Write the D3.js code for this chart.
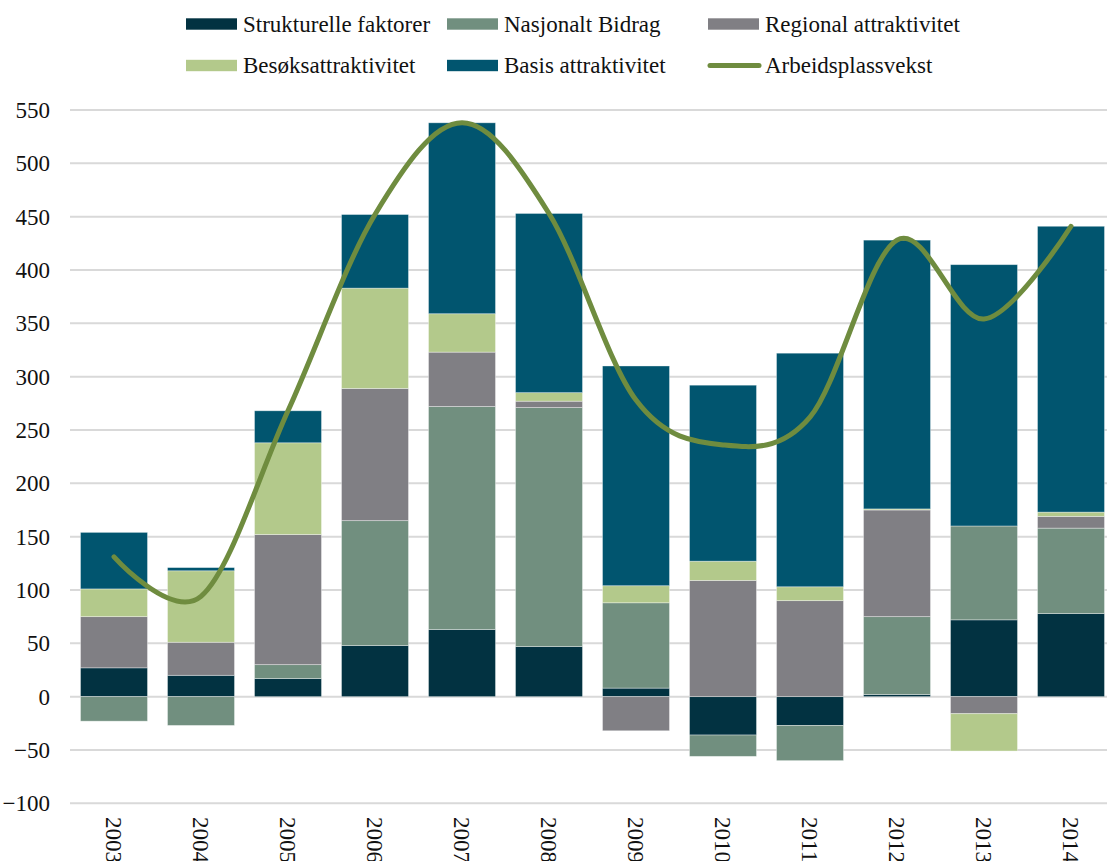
<!DOCTYPE html>
<html>
<head>
<meta charset="utf-8">
<script src="https://cdn.jsdelivr.net/npm/d3@7"></script>
<style>
  body { margin: 0; background: #fff; overflow: hidden; }
  svg text { font-family: "Liberation Serif", "DejaVu Serif", serif; fill: #111; }
</style>
</head>
<body>
<svg id="chart"></svg>
<script>
const years = ["2003", "2004", "2005", "2006", "2007", "2008", "2009", "2010", "2011", "2012", "2013", "2014"];
const seriesNames = ["Strukturelle faktorer", "Nasjonalt Bidrag", "Regional attraktivitet", "Besøksattraktivitet", "Basis attraktivitet"];
const strukturelle = [27, 20, 17, 48, 63, 47, 8, -36, -27, 2, 72, 78];
const nasjonalt = [-23, -27, 13, 117, 209, 224, 80, -20, -33, 73, 88, 80];
const regional = [48, 31, 122, 124, 51, 6, -32, 109, 90, 100, -16, 11];
const besok = [26, 67, 86, 94, 36, 8, 16, 18, 13, 1, -35, 4];
const basis = [53, 3, 30, 69, 179, 168, 206, 165, 219, 252, 245, 268];
const arbeidsplassvekst = [131, 94, 268, 452, 538, 453, 278, 236, 262, 428, 354, 441];
const yTicks = [-100, -50, 0, 50, 100, 150, 200, 250, 300, 350, 400, 450, 500, 550];

const colors = ["#023241", "#718f7f", "#807f84", "#b3c98b", "#01556f"];
const lineColor = "#6f8c3f";
const fontSize = 23;

const width = 1107, height = 861;
const svg = d3.select("#chart").attr("width", width).attr("height", height);

// Scales
const x = d3.scaleBand()
    .domain(years)
    .range([70.5, 1114.5])
    .paddingInner(0.23)
    .paddingOuter(0.115);
const y = d3.scaleLinear()
    .domain([-100, 550])
    .range([803.3, 110]);

// Gridlines
svg.append("g")
    .selectAll("line")
    .data(yTicks)
    .enter()
    .append("line")
    .attr("x1", 70)
    .attr("x2", width)
    .attr("y1", (d) => y(d))
    .attr("y2", (d) => y(d))
    .attr("stroke", "#d9d9d9")
    .attr("stroke-width", 2);

// Y axis labels
const yAxis = d3.axisLeft(y).tickValues(yTicks).tickSize(0).tickPadding(0);
svg.append("g")
    .attr("transform", "translate(50,0)")
    .call(yAxis)
    .call((g) => g.select(".domain").remove())
    .selectAll("text")
    .style("font-family", "'Liberation Serif', serif")
    .style("font-size", fontSize + "px")
    .style("fill", "#111")
    .attr("dy", "0.33em");

// Stack (positives up, negatives down)
const table = years.map((yr, i) => ({
    year: yr,
    s0: strukturelle[i],
    s1: nasjonalt[i],
    s2: regional[i],
    s3: besok[i],
    s4: basis[i],
}));
const stack = d3.stack()
    .keys(["s0", "s1", "s2", "s3", "s4"])
    .offset(d3.stackOffsetDiverging);
const stacked = stack(table);

svg.append("g")
    .selectAll("g")
    .data(stacked)
    .enter()
    .append("g")
    .attr("fill", (d, i) => colors[i])
    .selectAll("rect")
    .data((d) => d)
    .enter()
    .append("rect")
    .attr("x", (d) => x(d.data.year))
    .attr("width", x.bandwidth())
    .attr("y", (d) => y(Math.max(d[0], d[1])))
    .attr("height", (d) => Math.abs(y(d[0]) - y(d[1])))
    .attr("stroke", "rgba(255,255,255,0.45)")
    .attr("stroke-width", 0.8);

// Smoothed line
const line = d3.line()
    .x((d, i) => x(years[i]) + x.bandwidth() / 2)
    .y((d) => y(d))
    .curve(d3.curveCardinal.tension(0));
svg.append("path")
    .datum(arbeidsplassvekst)
    .attr("d", line)
    .attr("fill", "none")
    .attr("stroke", lineColor)
    .attr("stroke-width", 5)
    .attr("stroke-linecap", "round")
    .attr("stroke-linejoin", "round");

// X labels, rotated
svg.append("g")
    .selectAll("text")
    .data(years)
    .enter()
    .append("text")
    .attr("transform", (d) => `translate(${x(d) + x.bandwidth() / 2},817) rotate(90)`)
    .attr("dy", "0.33em")
    .style("font-size", fontSize + "px")
    .text((d) => d);

// Legend
const legendItems = [
    { name: seriesNames[0], color: colors[0], x: 186, y: 24, type: "rect" },
    { name: seriesNames[1], color: colors[1], x: 447, y: 24, type: "rect" },
    { name: seriesNames[2], color: colors[2], x: 708, y: 24, type: "rect" },
    { name: seriesNames[3], color: colors[3], x: 186, y: 65.5, type: "rect" },
    { name: seriesNames[4], color: colors[4], x: 447, y: 65.5, type: "rect" },
    { name: "Arbeidsplassvekst", color: lineColor, x: 708, y: 65.5, type: "line" },
];
const legend = svg.append("g");
legendItems.forEach((d) => {
    const g = legend.append("g").attr("transform", `translate(${d.x},${d.y})`);
    if (d.type === "rect") {
        g.append("rect")
            .attr("x", 0)
            .attr("y", -5.7)
            .attr("width", 51)
            .attr("height", 11.4)
            .attr("fill", d.color);
    } else {
        g.append("line")
            .attr("x1", 2)
            .attr("x2", 51)
            .attr("y1", 0)
            .attr("y2", 0)
            .attr("stroke", d.color)
            .attr("stroke-width", 5)
            .attr("stroke-linecap", "round");
    }
    g.append("text")
        .attr("x", 57)
        .attr("dy", "0.33em")
        .style("font-size", fontSize + "px")
        .text(d.name);
});
</script>
</body>
</html>
